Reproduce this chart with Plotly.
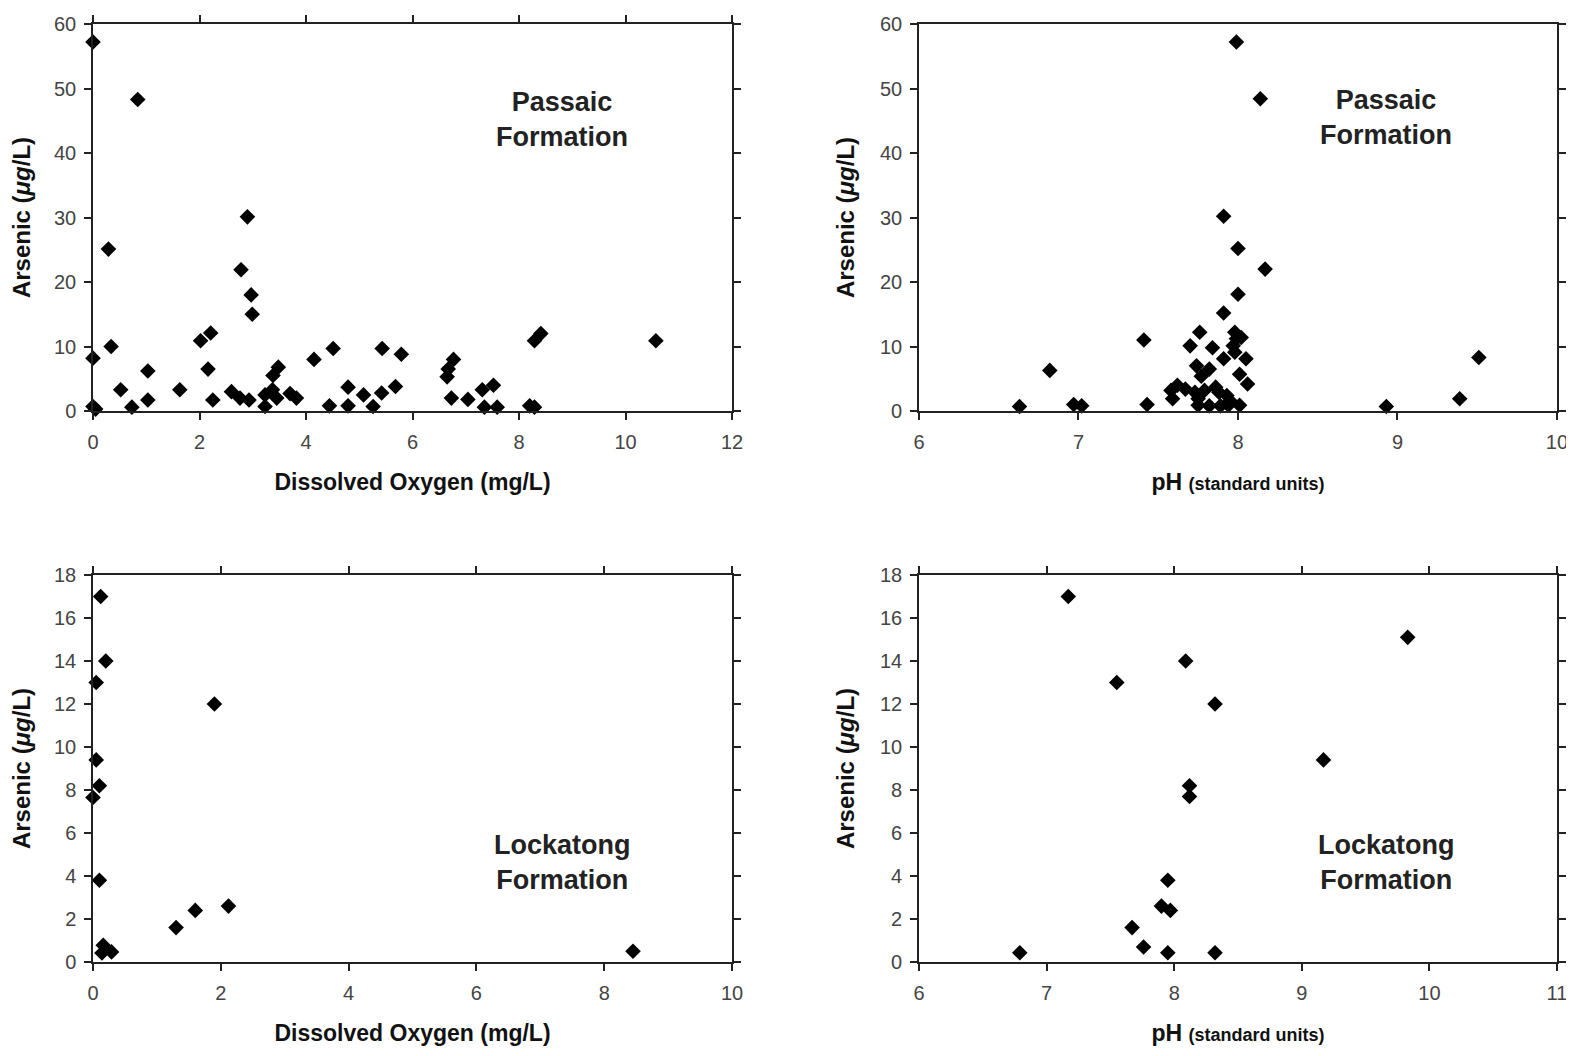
import plotly.graph_objects as go

# ---------------- Data ----------------
# Passaic Formation: Dissolved oxygen (mg/L) vs Arsenic (ug/L)
do_passaic = [0.0, 0.84, 0.29, 2.90, 2.78, 2.97, 2.99, 0.0, 0.34, 2.02, 2.21, 2.16,
              1.03, 0.52, 1.63, 0.0, 0.05, 0.73, 1.03, 2.25, 2.60, 2.76, 2.93, 3.23,
              3.23, 3.37, 3.45, 3.38, 3.48, 3.70, 3.82, 4.15, 4.51, 4.44, 4.79, 4.79,
              5.08, 5.26, 5.43, 5.79, 5.42, 5.68, 6.67, 6.77, 6.65, 6.73, 7.04, 7.31,
              7.52, 7.35, 7.59, 8.20, 8.29, 8.29, 8.41, 10.57]
as_do_passaic = [57.2, 48.3, 25.1, 30.1, 21.9, 18.0, 15.0, 8.2, 10.0, 10.9, 12.1, 6.5,
                 6.2, 3.3, 3.3, 0.7, 0.3, 0.6, 1.7, 1.7, 3.0, 2.0, 1.7, 0.7,
                 2.5, 3.3, 2.0, 5.5, 6.8, 2.7, 2.0, 8.0, 9.7, 0.8, 3.7, 0.8,
                 2.5, 0.7, 9.7, 8.8, 2.8, 3.8, 6.5, 8.0, 5.3, 2.0, 1.8, 3.3,
                 4.0, 0.6, 0.6, 0.8, 0.6, 10.9, 12.0, 10.9]

# Passaic Formation: pH vs Arsenic (ug/L)
ph_passaic = [7.99, 8.14, 7.91, 8.00, 8.17, 8.00, 7.91, 7.41, 7.76, 7.70, 7.84, 7.98,
              7.99, 7.97, 7.98, 8.02, 7.91, 8.05, 6.82, 7.74, 7.82, 7.77, 8.01, 8.06,
              7.58, 7.62, 7.59, 7.67, 7.73, 7.75, 7.79, 7.86, 7.88, 7.93, 7.95, 7.75,
              7.82, 7.89, 7.94, 8.01, 6.63, 6.97, 7.02, 7.43, 8.93, 9.39, 9.51]
as_ph_passaic = [57.2, 48.4, 30.2, 25.2, 22.0, 18.1, 15.2, 11.0, 12.2, 10.1, 9.8, 12.2,
                 11.2, 10.1, 9.1, 11.4, 8.1, 8.1, 6.3, 7.0, 6.5, 5.4, 5.7, 4.2,
                 3.2, 4.0, 1.9, 3.4, 2.9, 1.9, 3.2, 3.7, 2.9, 2.4, 1.6, 0.9,
                 0.8, 0.8, 0.9, 0.9, 0.7, 1.0, 0.8, 1.0, 0.7, 1.9, 8.3]

# Lockatong Formation: Dissolved oxygen (mg/L) vs Arsenic (ug/L)
do_lockatong = [0.12, 0.20, 0.05, 1.90, 0.05, 0.10, 0.0, 0.10, 1.30, 1.60, 2.12,
                0.16, 0.14, 0.29, 8.45]
as_do_lockatong = [17.0, 14.0, 13.0, 12.0, 9.4, 8.2, 7.65, 3.8, 1.6, 2.4, 2.6,
                   0.78, 0.42, 0.47, 0.5]

# Lockatong Formation: pH vs Arsenic (ug/L)
ph_lockatong = [7.17, 9.83, 8.09, 7.55, 8.32, 9.17, 8.12, 8.12, 7.95, 7.90, 7.97,
                7.67, 7.76, 7.95, 8.32, 6.79]
as_ph_lockatong = [17.0, 15.1, 14.0, 13.0, 12.0, 9.4, 8.2, 7.7, 3.8, 2.6, 2.4,
                   1.6, 0.7, 0.43, 0.43, 0.43]

# Tick values
do_ticks_top = [0, 2, 4, 6, 8, 10, 12]
do_ticks_bottom = [0, 2, 4, 6, 8, 10]
ph_ticks_top = [6, 7, 8, 9, 10]
ph_ticks_bottom = [6, 7, 8, 9, 10, 11]
ph_top_secondary_ticks = [6.8, 7.6, 8.4, 9.2]
as_ticks_top = [0, 10, 20, 30, 40, 50, 60]
as_ticks_bottom = [0, 2, 4, 6, 8, 10, 12, 14, 16, 18]

panel_labels = ["Passaic<br>Formation", "Passaic<br>Formation",
                "Lockatong<br>Formation", "Lockatong<br>Formation"]

# ---------------- Figure ----------------
FAM = "Liberation Sans, Arial, sans-serif"
TICKFONT = dict(family=FAM, size=20, color="#444444")
TITLEFONT = dict(family=FAM, size=23, color="#111111")
marker = dict(symbol="diamond", size=12, color="black", line=dict(width=0))

fig = go.Figure()
fig.add_trace(go.Scatter(x=do_passaic, y=as_do_passaic, mode="markers", marker=marker,
                         xaxis="x", yaxis="y", showlegend=False, cliponaxis=False))
fig.add_trace(go.Scatter(x=ph_passaic, y=as_ph_passaic, mode="markers", marker=marker,
                         xaxis="x2", yaxis="y2", showlegend=False, cliponaxis=False))
fig.add_trace(go.Scatter(x=do_lockatong, y=as_do_lockatong, mode="markers", marker=marker,
                         xaxis="x3", yaxis="y3", showlegend=False, cliponaxis=False))
fig.add_trace(go.Scatter(x=ph_lockatong, y=as_ph_lockatong, mode="markers", marker=marker,
                         xaxis="x4", yaxis="y4", showlegend=False, cliponaxis=False))

xl = [0.0, 0.4365]
xr = [0.5642, 1.0]
yt = [0.5874, 1.0]
yb = [0.0, 0.4126]

common = dict(showgrid=False, zeroline=False, showline=True, linecolor="#222222", linewidth=1.5,
              ticks="outside", ticklen=7, tickwidth=1.5, tickcolor="#222222",
              tickfont=TICKFONT, mirror="ticks")
xcommon = dict(common, ticklabelstandoff=5)
ycommon = dict(common, ticklabelstandoff=4)

do_title = dict(text="<b>Dissolved Oxygen (mg/L)</b>", font=TITLEFONT, standoff=22)
ph_title = dict(text="<b>pH <span style='font-size:18px'>(standard units)</span></b>",
                font=TITLEFONT, standoff=22)
as_title = dict(text="<b>Arsenic (<i>μg</i>/L)</b>", font=dict(TITLEFONT, size=24), standoff=19)

fig.update_layout(
    width=1574, height=1056,
    margin=dict(l=85, r=25, t=16, b=102, autoexpand=False),
    paper_bgcolor="white", plot_bgcolor="white",
    xaxis=dict(domain=xl, anchor="y", range=[0, 12], tickvals=do_ticks_top, title=do_title, **xcommon),
    yaxis=dict(domain=yt, anchor="x", range=[0, 60], tickvals=as_ticks_top, title=as_title, **ycommon),
    xaxis2=dict(domain=xr, anchor="y2", range=[6, 10], tickvals=ph_ticks_top, title=ph_title,
                **{**xcommon, "mirror": True}),
    yaxis2=dict(domain=yt, anchor="x2", range=[0, 60], tickvals=as_ticks_top, title=as_title, **ycommon),
    xaxis3=dict(domain=xl, anchor="y3", range=[0, 10], tickvals=do_ticks_bottom, title=do_title, **xcommon),
    yaxis3=dict(domain=yb, anchor="x3", range=[0, 18], tickvals=as_ticks_bottom, title=as_title, **ycommon),
    xaxis4=dict(domain=xr, anchor="y4", range=[6, 11], tickvals=ph_ticks_bottom, title=ph_title, **xcommon),
    yaxis4=dict(domain=yb, anchor="x4", range=[0, 18], tickvals=as_ticks_bottom, title=as_title, **ycommon),
    xaxis5=dict(overlaying="x2", anchor="y2", side="top", range=[6, 10],
                tickvals=ph_top_secondary_ticks, showticklabels=False, showgrid=False,
                zeroline=False, showline=False, ticks="outside", ticklen=7, tickwidth=1.5,
                tickcolor="#222222"),
)

label_pos = [(0.3204, 0.8987), (0.8832, 0.8998), (0.3204, 0.1066), (0.8832, 0.1066)]
for (px, py), txt in zip(label_pos, panel_labels):
    fig.add_annotation(x=px, y=py, xref="paper", yref="paper", text=f"<b>{txt}</b>",
                       showarrow=False, align="center", xanchor="center", yanchor="middle",
                       font=dict(family=FAM, size=27, color="#222222"))

fig.write_html("out.html")
